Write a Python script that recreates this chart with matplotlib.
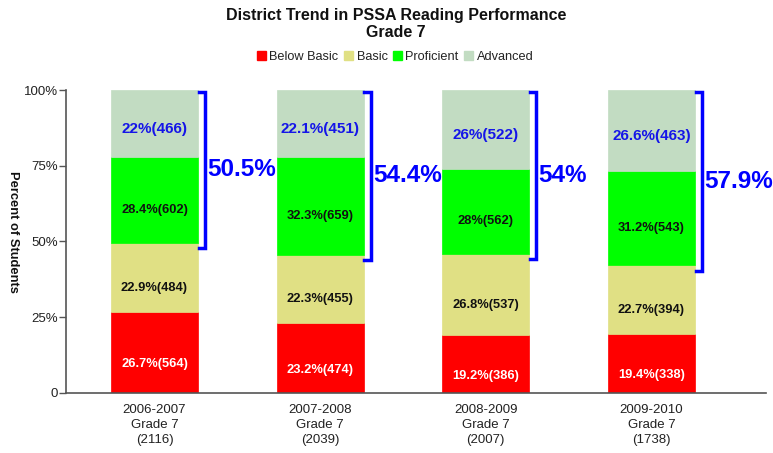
import matplotlib.pyplot as plt
from matplotlib.patches import Patch

plt.rcParams['font.family'] = ['Liberation Sans', 'DejaVu Sans']

# counts (labels give count in parentheses)
years = ["2006-2007", "2007-2008", "2008-2009", "2009-2010"]
grade = "Grade 7"
below_basic = [564, 474, 386, 338]
basic = [484, 455, 537, 394]
proficient = [602, 659, 562, 543]
advanced = [466, 451, 522, 463]

levels = ["Below Basic", "Basic", "Proficient", "Advanced"]
colors = ["#FF0000", "#E0E084", "#00FF00", "#C2DCC2"]
txt_colors = ["white", "#111111", "#111111", "#1515E8"]
txt_sizes = [9.3, 9.3, 9.3, 11]
txt_shift = [-8.5, -7.5, -7, -4]
series = [below_basic, basic, proficient, advanced]

totals = [sum(v) for v in zip(*series)]


def fmt(p):
    return f"{round(p, 1):g}"


fig = plt.figure(figsize=(7.73, 4.53), dpi=100)
ax = fig.add_axes([0.0854, 0.1325, 0.9056, 0.6688])

x = list(range(len(years)))
width = 0.525
bottom = [0.0] * len(years)
for vals, col, tcol, tsz, dy in zip(series, colors, txt_colors, txt_sizes, txt_shift):
    pct = [v / t * 100 for v, t in zip(vals, totals)]
    ax.bar(x, pct, width, bottom=bottom, color=col, edgecolor=col, linewidth=0.5, zorder=2)
    for i in x:
        ax.annotate(f"{fmt(pct[i])}%({vals[i]})", (i, bottom[i] + pct[i] / 2),
                    xytext=(0, dy), textcoords="offset points",
                    ha="center", va="center", fontsize=tsz, fontweight="bold", color=tcol, zorder=3)
    bottom = [b + p for b, p in zip(bottom, pct)]

# brackets for proficient + advanced
for i in x:
    top_pct = (proficient[i] + advanced[i]) / totals[i] * 100
    y0 = 100 - top_pct - 1.8
    y1 = 99.5
    xb = i + width / 2 + 0.042
    xa = i + width / 2 + 0.005
    ax.plot([xa, xb, xb, xa], [y1, y1, y0, y0], color="#0000FF", lw=2.5,
            solid_joinstyle="miter", clip_on=False, zorder=4)
    ax.text(xb + 0.015, (y0 + y1) / 2, f"{fmt(top_pct)}%", color="#0000FF",
            fontsize=17.5, fontweight="bold", ha="left", va="center")

ax.set_xlim(-0.534, 3.692)
ax.set_ylim(0, 100)
ax.set_yticks([0, 25, 50, 75, 100])
ax.set_yticklabels(["0", "25%", "50%", "75%", "100%"])
ax.set_xticks(x)
ax.set_xticklabels([f"{y}\n{grade}\n({t})" for y, t in zip(years, totals)], linespacing=1.32)
ax.tick_params(axis="x", length=0, pad=8, labelsize=9.5, labelcolor="#222222")
ax.tick_params(axis="y", length=5, width=1, color="#555555", labelsize=9.5, labelcolor="#222222", pad=1)
for s in ["top", "right"]:
    ax.spines[s].set_visible(False)
for s in ["left", "bottom"]:
    ax.spines[s].set_color("#555555")
    ax.spines[s].set_linewidth(1.2)
    ax.spines[s].set_zorder(5)

fig.text(13 / 773, 1 - 232 / 453, "Percent of Students", rotation=-90, ha="center", va="center",
         fontsize=9.3, fontweight="bold", color="#111111")
fig.text(396 / 773, 1 - 24 / 453, "District Trend in PSSA Reading Performance\nGrade 7",
         ha="center", va="center", fontsize=11.5, fontweight="bold", color="#111111", linespacing=1.2)

handles = [Patch(facecolor=c, edgecolor=c) for c in colors]
fig.legend(handles, levels, loc="center", bbox_to_anchor=(395 / 773, 1 - 57 / 453), ncol=4,
           frameon=False, fontsize=9.2, handlelength=0.7, handleheight=0.7, handletextpad=0.3,
           columnspacing=0.4, borderpad=0, labelcolor="#222222")

fig.savefig("out.png", dpi=100)
